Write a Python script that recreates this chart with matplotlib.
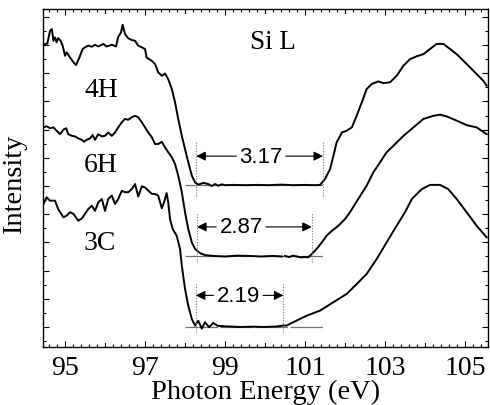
import numpy as np
import matplotlib
matplotlib.use("Agg")
import matplotlib.pyplot as plt
from matplotlib.ticker import MultipleLocator, NullFormatter

save_file_name = "out.png"

plt.rcParams['font.family'] = 'Liberation Serif'
plt.rcParams['mathtext.fontset'] = 'stix'

# Si L-edge spectra (photon energy in eV, intensity offset per polytype)
x_4h = [94.46, 94.56, 94.625, 94.67, 94.71, 94.75, 94.79, 94.83, 94.89, 94.94,
        95.0, 95.04, 95.125, 95.21, 95.275, 95.36, 95.44, 95.5, 95.58, 95.67,
        95.75, 95.83, 95.96, 96.04, 96.17, 96.275, 96.33, 96.4, 96.44, 96.5,
        96.58, 96.67, 96.75, 96.83, 96.92, 97.0, 97.04, 97.17, 97.25, 97.33,
        97.42, 97.5, 97.58, 97.67, 97.75, 97.83, 97.92, 98.0, 98.08, 98.17,
        98.25, 98.33, 98.46, 98.58, 98.67, 98.75, 98.83, 98.92, 99.0, 99.2,
        99.5, 99.8, 100.1, 100.4, 100.7, 101.0, 101.25, 101.375, 101.5, 101.625,
        101.71, 101.79, 101.875, 101.92, 102.04, 102.17, 102.29, 102.42, 102.54, 102.67,
        102.83, 102.96, 103.125, 103.29, 103.46, 103.625, 103.79, 103.96, 104.125, 104.29,
        104.46, 104.625, 104.79, 104.96, 105.125, 105.29, 105.46, 105.54]
y_4h = [10.01, 10.06, 10.51, 10.57, 10.15, 10.27, 10.10, 10.25, 10.15, 9.98,
        9.62, 9.74, 9.56, 9.39, 9.29, 9.56, 9.86, 9.92, 9.98, 9.94,
        10.01, 9.95, 10.04, 9.95, 10.01, 9.95, 10.29, 10.45, 10.72, 10.39,
        10.24, 10.18, 10.15, 9.98, 9.92, 9.86, 9.56, 9.44, 9.33, 9.03,
        8.91, 8.99, 8.79, 8.44, 7.97, 7.38, 6.78, 6.31, 5.85, 5.37,
        5.13, 5.05, 5.11, 5.07, 5.00, 5.07, 5.01, 5.06, 5.03, 5.04,
        5.03, 5.04, 5.03, 5.05, 5.03, 5.04, 5.03, 5.04, 5.25, 5.60,
        6.07, 6.55, 6.77, 6.90, 6.96, 7.08, 7.49, 7.97, 8.44, 8.62,
        8.71, 8.65, 8.68, 8.91, 9.27, 9.50, 9.60, 9.68, 9.86, 10.04,
        10.04, 9.86, 9.68, 9.44, 9.21, 8.97, 8.73, 8.56]

x_6h = [94.46, 94.54, 94.625, 94.71, 94.79, 94.875, 94.96, 95.03, 95.08, 95.17,
        95.25, 95.33, 95.42, 95.475, 95.54, 95.625, 95.69, 95.75, 95.83, 95.92,
        96.0, 96.08, 96.17, 96.25, 96.33, 96.42, 96.5, 96.58, 96.67, 96.75,
        96.83, 96.92, 97.0, 97.08, 97.17, 97.25, 97.33, 97.42, 97.5, 97.58,
        97.67, 97.75, 97.83, 97.92, 98.0, 98.08, 98.17, 98.25, 98.375, 98.5,
        98.7, 99.0, 99.3, 99.6, 99.9, 100.2, 100.42, 100.45, 100.5, 100.6,
        100.7, 100.8, 100.9, 101.0, 101.08, 101.17, 101.29, 101.42, 101.54, 101.67,
        101.79, 101.875, 102.0, 102.125, 102.25, 102.33, 102.54, 102.71, 102.875, 103.04,
        103.21, 103.46, 103.71, 103.96, 104.21, 104.375, 104.54, 104.79, 105.04, 105.29,
        105.54]
y_6h = [7.08, 7.12, 7.05, 7.08, 6.96, 6.84, 7.00, 7.05, 6.84, 6.78,
        6.76, 6.69, 6.64, 6.57, 6.64, 6.69, 6.81, 6.64, 6.84, 6.76,
        6.78, 6.90, 6.78, 6.90, 7.08, 7.26, 7.38, 7.35, 7.44, 7.49,
        7.44, 7.26, 7.08, 6.90, 6.73, 6.49, 6.49, 6.57, 6.37, 6.20,
        6.02, 5.78, 5.37, 4.78, 4.07, 3.48, 3.00, 2.77, 2.62, 2.55,
        2.52, 2.50, 2.53, 2.52, 2.50, 2.52, 2.50, np.nan, 2.52, 2.48,
        2.53, 2.50, 2.47, 2.48, 2.47, 2.59, 2.77, 3.00, 3.24, 3.41,
        3.54, 3.65, 3.83, 4.07, 4.36, 4.54, 5.01, 5.49, 5.84, 6.20,
        6.43, 6.78, 7.08, 7.38, 7.49, 7.53, 7.47, 7.32, 7.16, 7.08,
        6.84]

x_3c = [94.46, 94.54, 94.625, 94.75, 94.83, 94.96, 95.04, 95.125, 95.21, 95.33,
        95.42, 95.5, 95.58, 95.67, 95.75, 95.83, 95.92, 96.0, 96.08, 96.17,
        96.25, 96.33, 96.42, 96.5, 96.58, 96.67, 96.75, 96.83, 96.92, 97.0,
        97.08, 97.17, 97.25, 97.33, 97.42, 97.475, 97.54, 97.58, 97.625, 97.69,
        97.79, 97.875, 97.92, 98.0, 98.08, 98.17, 98.25, 98.33, 98.42, 98.5,
        98.6, 98.7, 98.82, 98.92, 99.08, 99.375, 99.7, 100.0, 100.3, 100.46,
        100.54, 100.71, 101.04, 101.375, 101.71, 102.04, 102.29, 102.54, 102.79, 103.04,
        103.29, 103.5, 103.67, 103.92, 104.125, 104.375, 104.58, 104.79, 105.04, 105.29,
        105.54]
y_3c = [4.36, 4.60, 4.48, 4.48, 4.18, 3.89, 3.95, 4.07, 4.01, 3.77,
        3.85, 4.01, 4.18, 4.30, 4.12, 4.42, 4.54, 4.12, 4.54, 4.66,
        4.36, 4.54, 4.83, 4.78, 4.78, 4.89, 5.07, 4.63, 4.99, 4.95,
        4.84, 4.72, 4.72, 4.66, 4.21, 4.42, 4.75, 4.42, 3.83, 3.48,
        3.24, 2.77, 2.17, 1.35, 0.76, 0.28, 0.05, 0.22, -0.06, 0.17,
        -0.01, 0.14, 0.04, 0.03, 0.02, 0.0, 0.01, 0.0, 0.02, 0.05,
        0.05, 0.17, 0.40, 0.58, 0.88, 1.17, 1.52, 1.88, 2.41, 3.00,
        3.59, 4.07, 4.54, 4.89, 5.04, 5.04, 4.89, 4.54, 4.07, 3.59,
        3.18]

polytypes = ["4H", "6H", "3C"]
label_x = [95.9, 95.9, 95.88]
label_y = [8.44, 5.78, 3.0]

# band gap markers
gap_values = [3.17, 2.87, 2.19]
gap_start = [98.28, 98.30, 98.27]
gap_arrow_y = [6.06, 3.55, 1.12]
gap_text_x = [99.9, 99.4, 99.33]
gap_base = [5.04, 2.52, 0.0]
gap_dot_lo = [4.65, 2.30, -0.18]
gap_dot_hi = [6.57, 4.05, 1.52]
base_x0, base_x1 = 98.0, 101.5


def main():
    fig = plt.figure(figsize=(4.9, 4.06), dpi=100)
    ax = fig.add_axes([0.0878, 0.1429, 0.9082, 0.8325])

    for xs, ys in [(x_4h, y_4h), (x_6h, y_6h), (x_3c, y_3c)]:
        ax.plot(xs, ys, color="black", lw=1.4)

    for name, lx, ly in zip(polytypes, label_x, label_y):
        ax.text(lx, ly, name, fontsize=20, ha="center", va="center")
    ax.text(100.2, 10.14, "Si L", fontsize=19.5, ha="center", va="center")

    fig.canvas.draw()
    renderer = fig.canvas.get_renderer()
    inv = ax.transData.inverted()
    for g, x0, ya, tx, yb, lo, hi in zip(gap_values, gap_start, gap_arrow_y,
                                         gap_text_x, gap_base, gap_dot_lo, gap_dot_hi):
        x1 = x0 + g
        ax.plot([base_x0, base_x1], [yb, yb], color="#707070", lw=0.9,
                dashes=(26, 2), zorder=1)
        ax.plot([x0, x0], [lo, hi], color="#777777", lw=0.8, ls=(0, (1, 1.5)))
        ax.plot([x1, x1], [lo, hi], color="#777777", lw=0.8, ls=(0, (1, 1.5)))
        t = ax.text(tx, ya, f"{g:.2f}", family="Liberation Sans", fontsize=16,
                    ha="center", va="center")
        bb = t.get_window_extent(renderer)
        left = inv.transform((bb.x0 - 1, bb.y0))[0]
        right = inv.transform((bb.x1 + 1, bb.y0))[0]
        ap = dict(arrowstyle="-|>", color="black", lw=0.8, mutation_scale=14,
                  shrinkA=0, shrinkB=0)
        ax.annotate("", xy=(x0, ya), xytext=(left, ya), arrowprops=ap)
        ax.annotate("", xy=(x1, ya), xytext=(right, ya), arrowprops=ap)

    ax.set_xlim(94.45, 105.575)
    ax.set_ylim(-0.71, 11.28)
    ax.set_xticks([95, 97, 99, 101, 103, 105])
    ax.xaxis.set_minor_locator(MultipleLocator(0.2))
    ax.yaxis.set_major_locator(MultipleLocator(1))
    ax.yaxis.set_minor_locator(MultipleLocator(0.5))
    ax.yaxis.set_major_formatter(NullFormatter())
    ax.tick_params(which="both", direction="in", top=True, right=True, width=0.8)
    ax.tick_params(which="major", length=4, labelsize=20, pad=6)
    ax.tick_params(which="minor", length=2.5)
    # unlabelled integer ticks on x
    for v in [96, 98, 100, 102, 104]:
        ax.axvline(v, ymin=0, ymax=0.012, color="black", lw=0.8)
        ax.axvline(v, ymin=0.988, ymax=1, color="black", lw=0.8)
    for s in ax.spines.values():
        s.set_linewidth(1.0)

    ax.set_xlabel("Photon Energy (eV)", fontsize=20.5, labelpad=-1)
    fig.text(15 / 490, 1 - 184 / 406, "Intensity", fontsize=20.5, rotation=90,
             ha="center", va="center")

    fig.savefig(save_file_name, dpi=100)


main()
